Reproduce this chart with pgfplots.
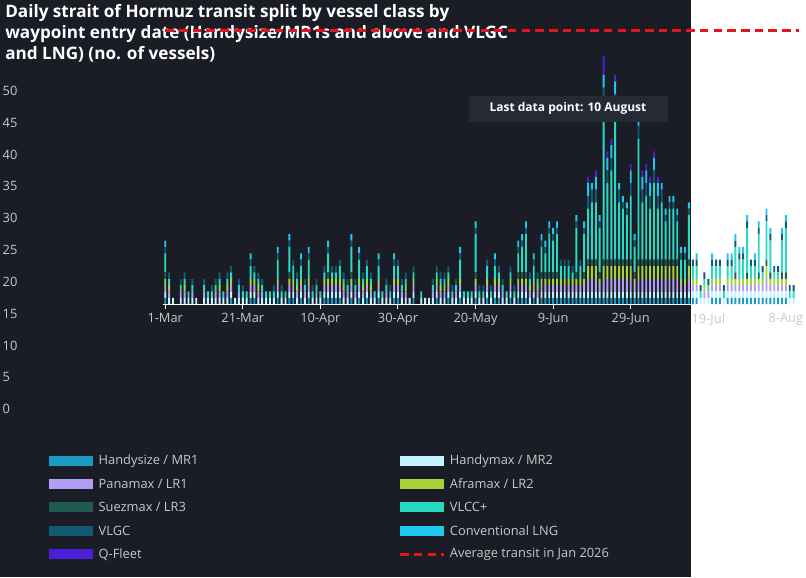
\documentclass[border=0pt]{standalone}
\usepackage{pgfplots}
\pgfplotsset{compat=1.18}
\usepackage{pgfplotstable}
\usepackage{fontspec}
\setmainfont{Open Sans}
\definecolor{bg}{HTML}{1B1D26}
\definecolor{cHS}{HTML}{1A9BC4}
\definecolor{cMR}{HTML}{C4F4FF}
\definecolor{cLR1}{HTML}{B39EF5}
\definecolor{cLR2}{HTML}{A8D43A}
\definecolor{cLR3}{HTML}{1D5C4E}
\definecolor{cVL}{HTML}{2AD9C2}
\definecolor{cVG}{HTML}{115A72}
\definecolor{cLNG}{HTML}{1EC8F0}
\definecolor{cQF}{HTML}{4A1FD6}
\definecolor{cRed}{HTML}{E8141C}
\definecolor{tk}{HTML}{C8C8C8}
\definecolor{boxc}{HTML}{262A35}
\newcommand{\leg}[4]{\fill[#1] (#3,-#4+6) rectangle (#3+51,-#4-6);
 \node[anchor=west,text=tk,font=\fontsize{15}{18}\selectfont,inner sep=0pt] at (#3+58,-#4) {#2};}
\pgfplotstableread{
d hs mr lr1 lr2 lr3 vl vg lng qf
0 1 1 1 1 1 3 1 1 0
1 0 1 1 1 0 1 1 0 0
2 0 1 0 0 0 0 0 0 0
3 0 0 0 0 0 0 0 0 0
4 0 1 1 0 0 1 1 0 0
5 0 1 1 1 0 1 1 0 0
6 0 1 0 0 0 1 0 0 0
7 0 1 1 0 0 1 1 0 0
8 0 1 0 0 0 0 0 0 0
9 0 0 0 0 0 0 0 0 0
10 0 1 1 0 0 1 1 0 0
11 0 1 0 0 0 1 0 0 0
12 0 1 0 0 0 1 1 0 0
13 0 1 1 0 0 1 1 0 0
14 0 1 1 1 0 1 1 0 0
15 0 1 0 0 0 1 0 0 0
16 0 1 1 1 0 1 1 0 0
17 1 1 1 1 0 1 1 0 0
18 0 1 0 0 0 0 0 0 0
19 0 1 1 0 0 1 1 0 0
20 0 1 0 0 0 1 1 0 0
21 0 1 0 0 0 1 0 0 0
22 1 1 1 1 0 2 1 1 0
23 1 1 1 1 0 1 1 0 0
24 0 1 1 1 0 1 1 0 0
25 0 1 1 0 0 1 1 0 0
26 0 1 0 0 0 1 0 0 0
27 0 1 0 0 0 1 0 0 0
28 0 1 0 0 0 1 1 0 0
29 1 1 1 1 0 3 1 1 0
30 0 1 0 0 0 1 1 0 0
31 0 1 0 0 0 1 0 0 0
32 1 1 1 1 1 4 1 1 0
33 1 1 1 1 0 2 1 0 0
34 0 1 1 1 0 1 1 0 0
35 1 1 1 1 0 2 1 1 0
36 0 1 1 0 0 1 1 0 0
37 1 1 1 1 0 3 1 1 0
38 0 1 0 0 0 1 1 0 0
39 0 1 1 0 0 1 1 0 0
40 0 1 0 0 0 1 0 0 0
41 1 1 1 1 0 1 1 0 0
42 1 1 1 1 1 3 1 1 0
43 1 1 1 1 0 1 1 0 0
44 1 1 1 1 0 1 1 0 0
45 1 1 1 1 0 2 1 0 0
46 0 1 1 1 0 1 1 0 0
47 0 1 1 0 0 1 1 0 0
48 1 1 1 1 1 4 1 1 0
49 0 1 1 0 0 1 1 0 0
50 1 1 1 1 0 3 1 1 0
51 0 1 1 1 0 1 1 0 0
52 1 1 1 1 0 2 1 0 0
53 0 1 1 1 0 1 1 0 0
54 0 1 0 0 0 1 0 0 0
55 1 1 1 1 0 2 1 1 0
56 0 1 0 0 0 1 0 0 0
57 0 1 1 0 0 1 1 0 0
58 0 1 0 0 0 1 1 0 0
59 1 1 1 1 0 2 1 1 0
60 1 1 1 1 0 2 1 0 0
61 0 1 1 0 0 1 1 0 0
62 0 1 1 1 0 1 1 0 0
63 0 1 0 0 0 0 0 0 0
64 1 1 1 1 0 1 1 0 0
65 0 0 0 0 0 0 0 0 0
66 0 1 0 0 0 1 0 0 0
67 0 1 0 0 0 0 0 0 0
68 0 1 0 0 0 0 0 0 0
69 0 1 1 0 0 1 1 0 0
70 1 1 1 1 0 1 1 0 0
71 0 1 1 1 0 1 1 0 0
72 0 1 1 1 0 1 1 0 0
73 1 1 1 1 0 1 1 0 0
74 0 1 0 0 0 1 1 0 0
75 0 1 1 0 0 1 1 0 0
76 1 1 1 1 0 3 1 1 0
77 0 1 0 0 0 1 0 0 0
78 0 1 0 0 0 1 0 0 0
79 0 1 0 0 0 1 0 0 0
80 1 1 1 1 1 6 1 1 0
81 0 1 0 0 0 1 1 0 0
82 0 1 0 0 0 1 1 0 0
83 1 1 1 1 0 2 1 0 0
84 0 1 0 0 0 1 1 0 0
85 1 1 1 1 0 2 1 1 0
86 1 1 1 1 0 1 1 0 0
87 0 1 1 0 0 1 1 0 0
88 0 1 0 0 0 1 0 0 0
89 1 1 1 1 0 1 1 0 0
90 0 1 0 0 0 1 1 0 0
91 1 1 1 1 1 3 1 1 0
92 1 1 1 1 1 4 1 1 0
93 1 1 1 1 1 6 1 1 0
94 0 1 1 1 0 1 1 0 0
95 1 1 1 1 0 2 1 1 0
96 0 1 1 1 0 1 1 0 0
97 1 1 1 1 1 4 1 1 0
98 1 1 1 1 1 3 1 1 0
99 1 1 1 1 1 6 1 1 0
100 1 1 1 1 1 5 1 1 0
101 1 1 1 1 1 6 1 1 0
102 1 1 1 1 0 2 1 0 0
103 1 1 1 1 0 2 1 0 0
104 1 1 1 1 0 2 1 0 0
105 1 1 1 1 0 1 1 0 0
106 1 1 1 1 1 7 1 1 0
107 1 1 1 1 0 2 1 0 0
108 1 1 1 1 1 6 1 1 0
109 1 1 2 2 1 8 2 2 1
110 1 1 2 2 1 9 2 1 0
111 1 1 2 2 1 9 2 2 1
112 1 1 1 1 1 7 1 1 0
113 1 1 2 2 1 25 2 2 3
114 1 1 2 2 1 12 2 2 1
115 1 1 2 2 1 14 2 2 1
116 1 1 2 2 1 24 2 2 1
117 1 1 2 2 1 9 2 1 0
118 1 1 2 2 1 8 1 1 0
119 1 1 2 2 1 7 1 1 0
120 1 1 2 2 1 10 2 2 1
121 1 1 1 1 1 4 1 1 0
122 1 1 2 2 1 19 2 2 1
123 1 1 2 2 1 9 2 2 1
124 1 1 2 2 1 10 2 2 1
125 1 1 2 2 1 8 2 2 1
126 1 1 2 2 1 12 2 2 1
127 1 1 2 2 1 8 2 2 1
128 1 1 2 2 1 9 2 1 0
129 1 1 2 2 1 6 1 1 0
130 1 1 2 2 1 8 1 1 0
131 1 1 2 2 1 8 1 1 0
132 1 1 2 2 1 6 1 1 0
133 1 1 1 1 0 3 1 1 0
134 1 1 1 1 0 3 1 1 0
135 1 1 2 2 1 7 1 1 0
136 1 1 1 1 0 2 1 0 0
137 1 1 1 1 0 2 1 1 0
138 0 1 0 0 0 1 1 0 0
139 0 1 1 1 0 1 1 0 0
140 0 1 1 0 0 1 1 0 0
141 1 1 1 1 0 2 1 1 0
142 1 1 1 1 0 2 1 0 0
143 1 1 1 1 0 2 1 0 0
144 0 1 0 0 0 1 1 0 0
145 1 1 1 1 0 2 1 1 0
146 1 1 1 1 0 2 1 1 0
147 1 1 1 1 1 4 1 1 0
148 1 1 1 1 0 3 1 1 0
149 1 1 1 1 0 3 1 1 0
150 1 1 1 1 1 7 1 1 0
151 1 1 1 1 0 2 1 0 0
152 1 1 1 1 0 2 1 1 0
153 1 1 1 1 1 6 1 1 0
154 1 1 1 1 0 1 1 0 0
155 1 1 2 2 1 6 1 1 0
156 1 1 1 1 1 5 1 1 0
157 1 1 1 1 0 1 1 0 0
158 1 1 1 1 0 1 1 0 0
159 1 1 1 1 1 5 1 1 0
160 1 1 1 1 1 7 1 1 0
161 0 1 0 0 0 1 1 0 0
162 0 1 0 0 0 1 1 0 0
}\data
\begin{document}
\begin{tikzpicture}[x=1pt,y=1pt]
\fill[bg] (0,0) rectangle (806,-674);
\node[anchor=north west,align=left,text=white,font=\fontsize{20}{24.5}\selectfont\bfseries,inner sep=0pt] at (6,-5)
{Daily strait of Hormuz transit split by vessel class by\\waypoint entry date (Handysize/MR1s and above and VLGC\\and LNG) (no. of vessels)};
\begin{axis}[at={(42,-477.7)},anchor=south west,scale only axis,width=743,height=371.7,
 xmin=-0.6,xmax=163.5,ymin=0,ymax=50,
 ybar stacked,bar width=0.5,
 axis y line=none,axis x line*=bottom,
 x axis line style={draw=white,line width=1.2pt,-},
 xtick={0,20,40,60,80,100,120,140,160},
 xticklabels={1-Mar,21-Mar,10-Apr,30-Apr,20-May,9-Jun,29-Jun,19-Jul,8-Aug},
 xtick style={draw=white,line width=1.2pt},
 major tick length=5pt, tick align=outside,
 xticklabel style={text=tk,font=\fontsize{15}{18}\selectfont,yshift=-2pt},
 clip=false]
\addplot[fill=cHS,draw=none] table[x=d,y=hs]{\data};
\addplot[fill=cMR,draw=none] table[x=d,y=mr]{\data};
\addplot[fill=cLR1,draw=none] table[x=d,y=lr1]{\data};
\addplot[fill=cLR2,draw=none] table[x=d,y=lr2]{\data};
\addplot[fill=cLR3,draw=none] table[x=d,y=lr3]{\data};
\addplot[fill=cVL,draw=none] table[x=d,y=vl]{\data};
\addplot[fill=cVG,draw=none] table[x=d,y=vg]{\data};
\addplot[fill=cLNG,draw=none] table[x=d,y=lng]{\data};
\addplot[fill=cQF,draw=none] table[x=d,y=qf]{\data};
\end{axis}
\begin{axis}[at={(42,-477.7)},anchor=south west,scale only axis,width=743,height=371.7,
 xmin=-0.6,xmax=163.5,ymin=0,ymax=50,axis lines=none,clip=false]
\addplot[cRed,line width=3.5pt,dash pattern=on 10pt off 6pt] coordinates {(0,43) (163.5,43)};
\end{axis}
\foreach \v/\yy in {0/477.7,5/440.5,10/403.3,15/366.2,20/329,25/291.8,30/254.6,35/217.5,40/180.3,45/143.1,50/106}
 \node[anchor=west,text=tk,font=\fontsize{15}{18}\selectfont,inner sep=0pt] at (3,-\yy) {\v};
\fill[boxc] (547,-112) rectangle (780,-142);
\node[text=white,font=\fontsize{14}{16}\selectfont\bfseries] at (663,-127) {Last data point: 10 August};
\leg{cHS}{Handysize / MR1}{57}{538}
\leg{cLR1}{Panamax / LR1}{57}{565}
\leg{cLR3}{Suezmax / LR3}{57}{592}
\leg{cVG}{VLGC}{57}{620}
\leg{cQF}{Q-Fleet}{57}{647}
\leg{cMR}{Handymax / MR2}{467}{538}
\leg{cLR2}{Aframax / LR2}{467}{565}
\leg{cVL}{VLCC+}{467}{592}
\leg{cLNG}{Conventional LNG}{467}{620}
\draw[cRed,line width=3.5pt,dash pattern=on 10pt off 6pt] (467,-647) -- (518,-647);
\node[anchor=west,text=tk,font=\fontsize{15}{18}\selectfont,inner sep=0pt] at (525,-647) {Average transit in Jan 2026};
\end{tikzpicture}
\end{document}
